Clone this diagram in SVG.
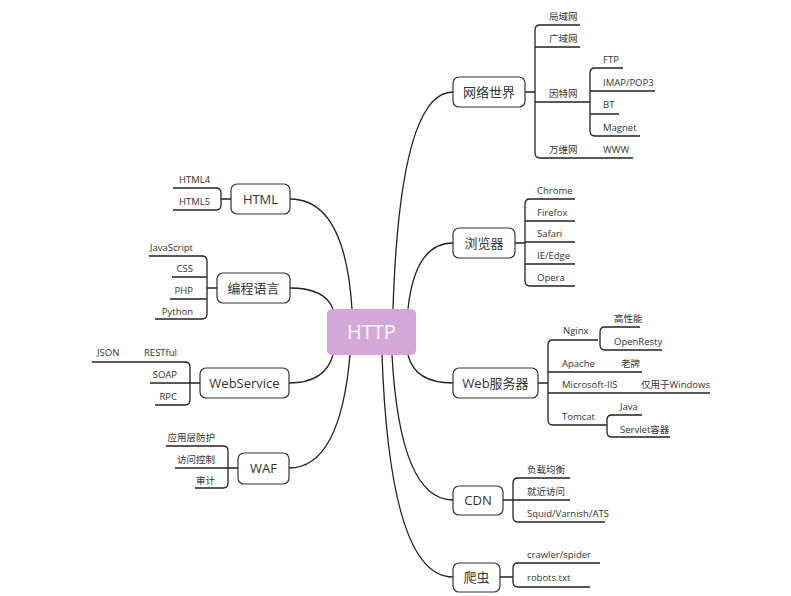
<svg xmlns="http://www.w3.org/2000/svg" width="791" height="596" viewBox="0 0 791 596">
<style>
text{font-family:"Open Sans","Noto Sans CJK SC",sans-serif;fill:#333}
.c{font-size:9.5px}
.n{font-size:13px;text-anchor:middle}
.e{text-anchor:end}
.b{fill:#fff;stroke:#333;stroke-width:1.2}
path,line{fill:none;stroke:#222;stroke-width:1.3}
</style>
<rect width="791" height="596" fill="#fff"/>
<g id="connectors">
<path d="M393 309 Q400 92 453 92"/>
<path d="M408 309 Q415 243 453 243"/>
<path d="M408 355 Q415 383 453 383"/>
<path d="M392 355 Q400 500 453 500"/>
<path d="M382 355 Q390 577 453 577"/>
<path d="M352 309 Q345 199 290 199"/>
<path d="M333 309 Q325 288 290 288"/>
<path d="M333 355 Q325 383 289 383"/>
<path d="M350 355 Q340 468 289 468"/>
</g>
<g id="http"><rect x="327" y="309" width="89" height="46" rx="5" fill="#d3a8d9"/><text x="371.5" y="339" style="font-size:20px;fill:#fff;text-anchor:middle">HTTP</text></g>
<g id="n1">
<rect class="b" x="453" y="77" width="72" height="30" rx="6"/><text class="n" x="489" y="97">网络世界</text>
<path d="M525 92H535M580 25H540Q535 25 535 30V153Q535 158 540 158H633M535 47H580M535 102H590M623 68H595Q590 68 590 73V131Q590 136 595 136H640M590 91H655M590 114H619"/>
<text class="c" x="549" y="20">局域网</text><text class="c" x="549" y="42">广域网</text><text class="c" x="549" y="97">因特网</text><text class="c" x="549" y="153">万维网</text>
<text class="c" x="603" y="63">FTP</text><text class="c" x="603" y="86">IMAP/POP3</text><text class="c" x="603" y="108">BT</text><text class="c" x="603" y="131">Magnet</text><text class="c" x="603" y="153">WWW</text>
</g>
<g id="n2">
<rect class="b" x="453" y="228" width="62" height="30" rx="6"/><text class="n" x="484" y="248">浏览器</text>
<path d="M515 243H525M575 199H530Q525 199 525 204V281Q525 286 530 286H575M525 221H575M525 242H575M525 264H575"/>
<text class="c" x="537" y="194">Chrome</text><text class="c" x="537" y="216">Firefox</text><text class="c" x="537" y="237">Safari</text><text class="c" x="537" y="259">IE/Edge</text><text class="c" x="537" y="281">Opera</text>
</g>
<g id="n3">
<rect class="b" x="453" y="368" width="85" height="30" rx="6"/><text class="n" x="495.5" y="388">Web服务器</text>
<path d="M538 383H548M598 340H553Q548 340 548 345V420Q548 425 553 425H607M548 372H642M548 393H710M640 327H605Q600 327 600 332V345Q600 350 605 350H662M642 415H612Q607 415 607 420V432Q607 437 612 437H670"/>
<text class="c" x="563" y="334">Nginx</text><text class="c" x="562" y="367">Apache</text><text class="c" x="562" y="388">Microsoft-IIS</text><text class="c" x="562" y="420">Tomcat</text>
<text class="c" x="614" y="322">高性能</text><text class="c" x="614" y="345">OpenResty</text><text class="c" x="621" y="367">老牌</text><text class="c" x="641" y="388">仅用于Windows</text><text class="c" x="620" y="410">Java</text><text class="c" x="620" y="433">Servlet容器</text>
</g>
<g id="n4">
<rect class="b" x="453" y="486" width="50" height="29" rx="6"/><text class="n" x="478" y="505">CDN</text>
<path d="M503 500H513M570 478H518Q513 478 513 483V517Q513 522 518 522H605M513 500H570"/>
<text class="c" x="527" y="473">负载均衡</text><text class="c" x="527" y="495">就近访问</text><text class="c" x="527" y="517">Squid/Varnish/ATS</text>
</g>
<g id="n5">
<rect class="b" x="453" y="563" width="47" height="29" rx="6"/><text class="n" x="476.5" y="582">爬虫</text>
<path d="M500 577H513M600 563H518Q513 563 513 568V582Q513 587 518 587H590"/>
<text class="c" x="527" y="558">crawler/spider</text><text class="c" x="527" y="581">robots.txt</text>
</g>
<g id="n6">
<rect class="b" x="231" y="184" width="59" height="30" rx="6"/><text class="n" x="260.5" y="204">HTML</text>
<path d="M231 199H221M173 188H216Q221 188 221 193V205Q221 210 216 210H173"/>
<text class="c" x="179" y="183">HTML4</text><text class="c" x="179" y="205">HTML5</text>
</g>
<g id="n7">
<rect class="b" x="217" y="273" width="73" height="30" rx="6"/><text class="n" x="253.5" y="293">编程语言</text>
<path d="M217 288H207M149 256H202Q207 256 207 261V314Q207 319 202 319H155M172 277H207M170 299H207"/>
<text class="c e" x="193" y="251">JavaScript</text><text class="c e" x="193" y="272">CSS</text><text class="c e" x="193" y="294">PHP</text><text class="c e" x="193" y="315">Python</text>
</g>
<g id="n8">
<rect class="b" x="200" y="368" width="89" height="30" rx="6"/><text class="n" x="244.5" y="388">WebService</text>
<path d="M200 383H190M92 362H185Q190 362 190 367V400Q190 405 185 405H155M150 383H190"/>
<text class="c" x="97" y="356">JSON</text><text class="c e" x="177" y="356">RESTful</text><text class="c e" x="177" y="378">SOAP</text><text class="c e" x="177" y="400">RPC</text>
</g>
<g id="n9">
<rect class="b" x="238" y="453" width="51" height="31" rx="6"/><text class="n" x="263.5" y="473">WAF</text>
<path d="M238 468H228M166 446H223Q228 446 228 451V483Q228 488 223 488H195M175 468H228"/>
<text class="c e" x="215" y="441">应用层防护</text><text class="c e" x="215" y="463">访问控制</text><text class="c e" x="215" y="484">审计</text>
</g>
</svg>
